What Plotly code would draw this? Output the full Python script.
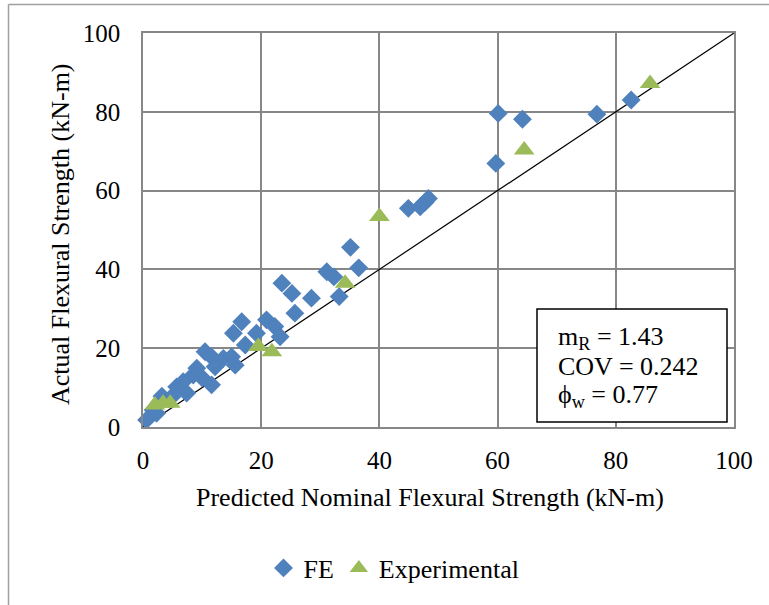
import plotly.graph_objects as go

# Data
fe_x = [0.6, 1.7, 2.3, 3.2, 4.9, 5.7, 6.8, 7.4, 8.5, 9.1, 10.0, 10.5, 11.6, 11.6, 12.2, 13.6, 15.0, 15.6, 15.3,
        16.7, 17.3, 19.2, 20.9, 22.3, 23.2, 23.5, 25.2, 25.7, 28.5, 31.1, 32.3, 33.2, 35.1, 36.5,
        44.9, 46.9, 47.7, 48.3, 59.7, 60.1, 64.2, 76.8, 82.6]
fe_y = [1.8, 4.3, 3.5, 7.8, 7.7, 10.2, 11.5, 8.6, 13.2, 14.9, 12.5, 19.1, 17.8, 10.7, 15.3, 17.4, 17.8, 15.7, 23.8,
        26.7, 20.8, 23.8, 27.2, 25.5, 22.9, 36.5, 33.9, 28.9, 32.7, 39.4, 38.1, 33.1, 45.6, 40.4,
        55.5, 55.9, 57.0, 58.0, 66.9, 79.6, 78.1, 79.4, 83.0]

exp_x = [2.0, 3.4, 4.6, 19.5, 21.8, 34.2, 40.0, 64.5, 85.8]
exp_y = [5.6, 6.0, 6.0, 20.4, 19.1, 36.5, 53.4, 70.3, 87.2]

line_x = [0, 100]
line_y = [0, 100]

axis_ticks = [0, 20, 40, 60, 80, 100]
stats_lines = ["m<sub>R</sub> = 1.43", "COV = 0.242", "ϕ<sub>w</sub> = 0.77"]

FONT = "Liberation Serif, Times New Roman, serif"
GRID = "#878787"

W, H = 769, 605
L, R, T, B = 143, 734, 33, 427


def px(xp):
    return (xp - L) / (R - L)


def py(yp):
    return (B - yp) / (B - T)


fig = go.Figure()
fig.add_trace(go.Scatter(x=line_x, y=line_y, mode="lines",
                         line=dict(color="black", width=1.2), showlegend=False, hoverinfo="skip"))
fig.add_trace(go.Scatter(x=fe_x, y=fe_y, mode="markers", name="FE",
                         marker=dict(symbol="diamond", size=14.5, color="#4F81BD"), cliponaxis=False))
fig.add_trace(go.Scatter(x=exp_x, y=exp_y, mode="markers", name="Experimental",
                         marker=dict(symbol="triangle-up", size=18, color="#9BBB59"), cliponaxis=False))

axis_common = dict(range=[0, 100], tickvals=axis_ticks, showgrid=True, gridcolor=GRID, gridwidth=1.7,
                   showline=True, linecolor=GRID, linewidth=1.7, mirror=True, zeroline=False,
                   ticks="", tickfont=dict(family=FONT, size=25, color="black"), fixedrange=True)
fig.update_xaxes(**axis_common, ticklabelstandoff=10)
fig.update_yaxes(**axis_common, ticklabelstandoff=16)

shapes = [
    # outer chart border (top and left visible)
    dict(type="line", xref="paper", yref="paper", x0=px(8.5), x1=px(W + 5), y0=py(4.5), y1=py(4.5),
         line=dict(color="#a0a0a0", width=1.5)),
    dict(type="line", xref="paper", yref="paper", x0=px(8.5), x1=px(8.5), y0=py(4.5), y1=py(H + 5),
         line=dict(color="#a0a0a0", width=1.5)),
    # stats box
    dict(type="rect", xref="paper", yref="paper", x0=px(537), x1=px(727), y0=py(422), y1=py(309),
         line=dict(color="black", width=1.5), fillcolor="white", layer="above"),
]

annotations = [
    dict(text="Predicted Nominal Flexural Strength (kN-m)", xref="paper", yref="paper",
         x=px(430), y=py(497), showarrow=False, xanchor="center", yanchor="middle",
         font=dict(family=FONT, size=26, color="black")),
    dict(text="Actual Flexural Strength (kN-m)", xref="paper", yref="paper",
         x=px(60), y=py(234), showarrow=False, textangle=-90, xanchor="center", yanchor="middle",
         font=dict(family=FONT, size=26, color="black")),
]
for txt, yc in zip(stats_lines, [338, 366, 396]):
    annotations.append(dict(text=txt, xref="paper", yref="paper", x=px(556), y=py(yc),
                            showarrow=False, xanchor="left", yanchor="middle",
                            font=dict(family=FONT, size=26, color="black")))

fig.update_layout(
    width=W, height=H,
    margin=dict(l=L, r=W - R, t=T, b=H - B),
    paper_bgcolor="white", plot_bgcolor="white",
    showlegend=True,
    legend=dict(orientation="h", x=px(394), y=py(568), xanchor="center", yanchor="middle",
                font=dict(family=FONT, size=26, color="black"), itemwidth=30,
                bgcolor="rgba(0,0,0,0)"),
    shapes=shapes, annotations=annotations,
)

fig.write_html("out.html", config={"displayModeBar": False},
               post_script="document.body.style.margin='0px';document.body.style.overflow='hidden';")
